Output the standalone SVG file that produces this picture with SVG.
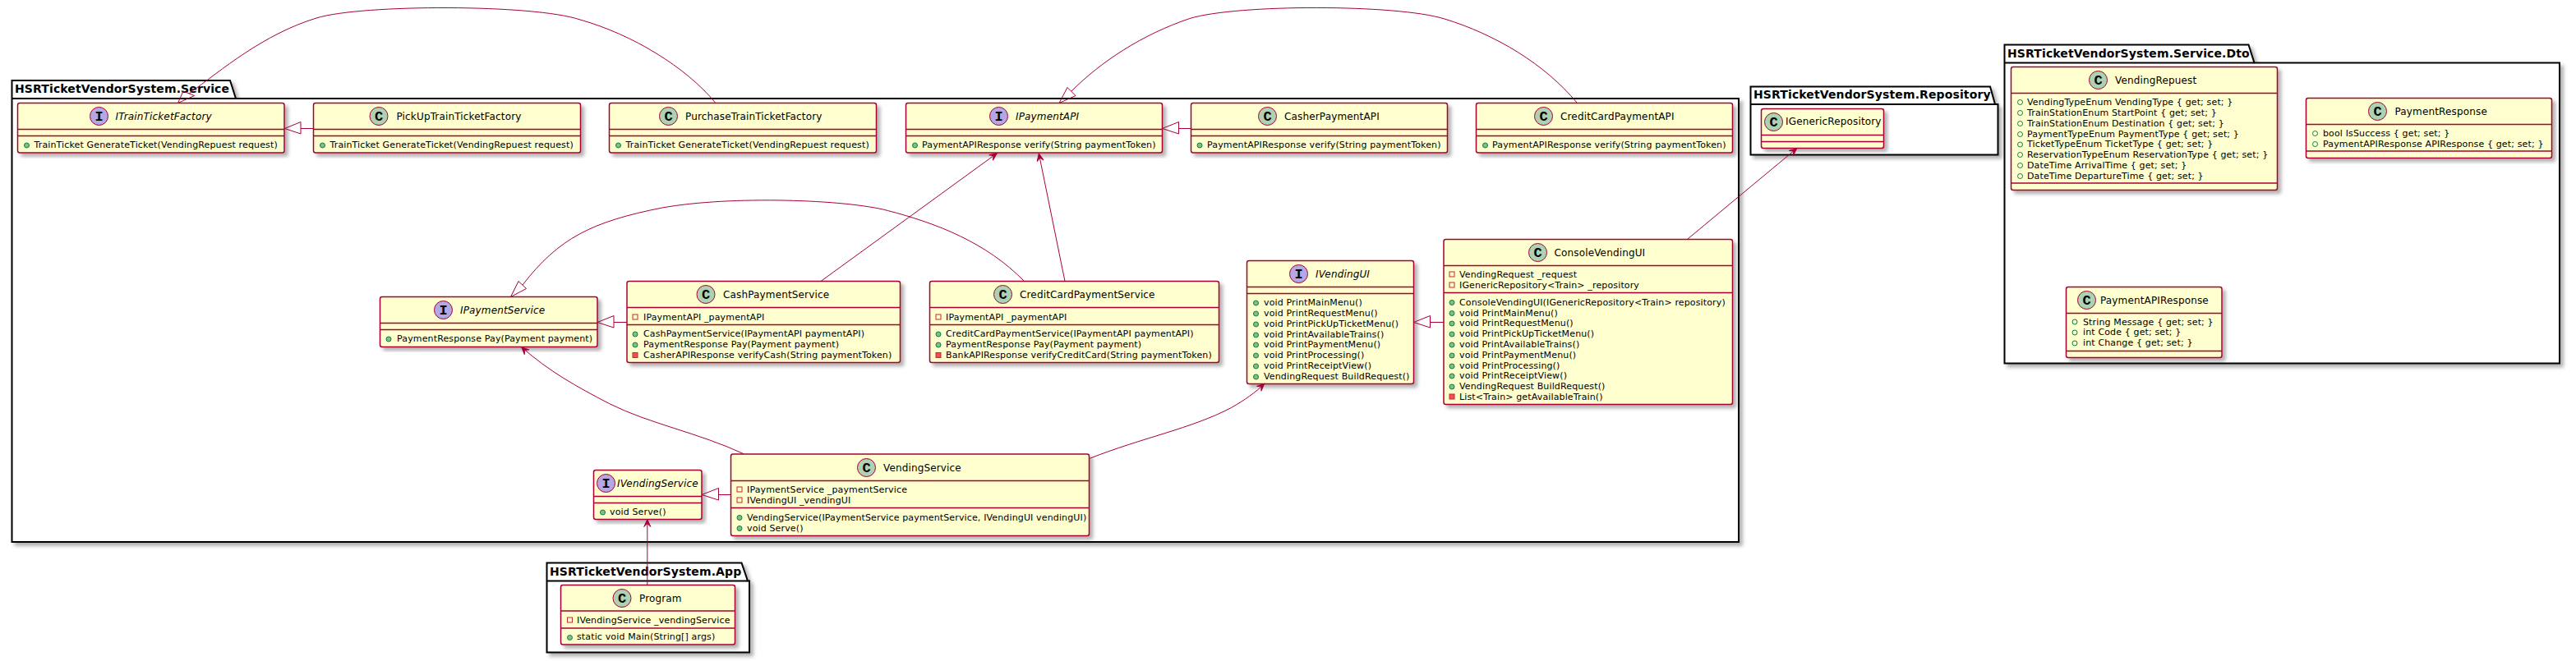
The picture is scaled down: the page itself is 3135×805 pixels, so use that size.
<svg xmlns="http://www.w3.org/2000/svg" width="3135" height="805" viewBox="0 0 3135 805">
<style>
text{font-family:"DejaVu Sans",sans-serif;fill:#000}
.box{fill:#FEFECE;stroke:#A80036;stroke-width:1.5;filter:url(#sh)}
.sep{stroke:#A80036;stroke-width:1.5}
.pkg{fill:#fff;stroke:#000;stroke-width:2;filter:url(#sh)}
.pl{fill:none;stroke:#000;stroke-width:2}
.pt{font-size:14px;font-weight:bold;letter-spacing:.12px}
.n{font-size:12px;letter-spacing:.15px}
.i{font-size:12px;font-style:italic;letter-spacing:.15px}
.m{font-size:11px;letter-spacing:.14px}
.cc{fill:#ADD1B2;stroke:#A80036;stroke-width:1}
.ci{fill:#B4A7E5;stroke:#A80036;stroke-width:1}
.g{font-family:"Liberation Mono",monospace;font-size:17px;font-weight:bold;text-anchor:middle}
.pub{fill:#84BE84;stroke:#038048;stroke-width:1}
.puo{fill:none;stroke:#038048;stroke-width:1}
.pri{fill:none;stroke:#C82930;stroke-width:1}
.prm{fill:#F24D5C;stroke:#C82930;stroke-width:1}
.e{fill:none;stroke:#A80036;stroke-width:1}
.ext{fill:none;stroke:#A80036;stroke-width:1}
.arr{fill:#A80036;stroke:#A80036;stroke-width:1}
</style>
<defs>
<filter id="sh" x="-5%" y="-5%" width="110%" height="115%"><feGaussianBlur in="SourceAlpha" stdDeviation="2"/><feOffset dx="4" dy="4" result="b"/><feFlood flood-color="#000" flood-opacity=".3"/><feComposite in2="b" operator="in"/><feMerge><feMergeNode/><feMergeNode in="SourceGraphic"/></feMerge></filter>
<g id="arrow"><path class="arr" d="M0,0 L4,9 L0,5 L-4,9 Z"/></g>
</defs>

<g id="pkg-service">
<path class="pkg" d="M14.5,98 H280 L287,120 H2116 V660 H14.5 Z"/>
<path class="pl" d="M14.5,120 H287"/>
<text class="pt" x="18" y="113">HSRTicketVendorSystem.Service</text>
</g>
<g id="pkg-repository">
<path class="pkg" d="M2130.5,105.5 H2422 L2428,127 H2431.5 V188.5 H2130.5 Z"/>
<path class="pl" d="M2130.5,127 H2428"/>
<text class="pt" x="2134" y="120">HSRTicketVendorSystem.Repository</text>
</g>
<g id="pkg-dto">
<path class="pkg" d="M2439.5,54.5 H2736.5 L2743.5,76.5 H3115 V442.5 H2439.5 Z"/>
<path class="pl" d="M2439.5,76.5 H2743.5"/>
<text class="pt" x="2443" y="69.5">HSRTicketVendorSystem.Service.Dto</text>
</g>
<g id="pkg-app">
<path class="pkg" d="M665.5,685.5 H902.5 L910,707.5 H912 V794.5 H665.5 Z"/>
<path class="pl" d="M665.5,707.5 H910"/>
<text class="pt" x="669" y="700.5">HSRTicketVendorSystem.App</text>
</g>

<g id="ITrainTicketFactory">
<rect class="box" x="21.5" y="125.5" width="324.5" height="60.5" rx="2.5"/>
<path class="sep" d="M21.5,157.5 H346 M21.5,165.5 H346"/>
<circle class="ci" cx="120.5" cy="141.5" r="11"/><text class="g" x="120.5" y="147">I</text>
<text class="i" x="140.5" y="146">ITrainTicketFactory</text>
<circle class="pub" cx="32.5" cy="177" r="3"/>
<text class="m" x="41.5" y="179.5">TrainTicket GenerateTicket(VendingRepuest request)</text>
</g>
<g id="PickUpTrainTicketFactory">
<rect class="box" x="381.5" y="125.5" width="325" height="60.5" rx="2.5"/>
<path class="sep" d="M381.5,157.5 H706.5 M381.5,165.5 H706.5"/>
<circle class="cc" cx="461" cy="141.5" r="11"/><text class="g" x="461" y="147">C</text>
<text class="n" x="482.5" y="146">PickUpTrainTicketFactory</text>
<circle class="pub" cx="392.5" cy="177" r="3"/>
<text class="m" x="401.5" y="179.5">TrainTicket GenerateTicket(VendingRepuest request)</text>
</g>
<g id="PurchaseTrainTicketFactory">
<rect class="box" x="741.5" y="125.5" width="325" height="60.5" rx="2.5"/>
<path class="sep" d="M741.5,157.5 H1066.5 M741.5,165.5 H1066.5"/>
<circle class="cc" cx="813.5" cy="141.5" r="11"/><text class="g" x="813.5" y="147">C</text>
<text class="n" x="834" y="146">PurchaseTrainTicketFactory</text>
<circle class="pub" cx="752.5" cy="177" r="3"/>
<text class="m" x="761.5" y="179.5">TrainTicket GenerateTicket(VendingRepuest request)</text>
</g>
<g id="IPaymentAPI">
<rect class="box" x="1102.5" y="125.5" width="312" height="60.5" rx="2.5"/>
<path class="sep" d="M1102.5,157.5 H1414.5 M1102.5,165.5 H1414.5"/>
<circle class="ci" cx="1215.5" cy="141.5" r="11"/><text class="g" x="1215.5" y="147">I</text>
<text class="i" x="1236" y="146">IPaymentAPI</text>
<circle class="pub" cx="1113.5" cy="177" r="3"/>
<text class="m" x="1122" y="179.5">PaymentAPIResponse verify(String paymentToken)</text>
</g>
<g id="CasherPaymentAPI">
<rect class="box" x="1449.5" y="125.5" width="312" height="60.5" rx="2.5"/>
<path class="sep" d="M1449.5,157.5 H1761.5 M1449.5,165.5 H1761.5"/>
<circle class="cc" cx="1542.5" cy="141.5" r="11"/><text class="g" x="1542.5" y="147">C</text>
<text class="n" x="1563" y="146">CasherPaymentAPI</text>
<circle class="pub" cx="1460" cy="177" r="3"/>
<text class="m" x="1469" y="179.5">PaymentAPIResponse verify(String paymentToken)</text>
</g>
<g id="CreditCardPaymentAPI">
<rect class="box" x="1796.5" y="125.5" width="312" height="60.5" rx="2.5"/>
<path class="sep" d="M1796.5,157.5 H2108.5 M1796.5,165.5 H2108.5"/>
<circle class="cc" cx="1878.5" cy="141.5" r="11"/><text class="g" x="1878.5" y="147">C</text>
<text class="n" x="1899" y="146">CreditCardPaymentAPI</text>
<circle class="pub" cx="1807.5" cy="177" r="3"/>
<text class="m" x="1816" y="179.5">PaymentAPIResponse verify(String paymentToken)</text>
</g>
<g id="IGenericRepository">
<rect class="box" x="2143.5" y="132.5" width="149" height="48" rx="2.5"/>
<path class="sep" d="M2143.5,164.5 H2292.5 M2143.5,172.5 H2292.5"/>
<circle class="cc" cx="2158.5" cy="148.5" r="11"/><text class="g" x="2158.5" y="154">C</text>
<text class="n" x="2173" y="152">IGenericRepository</text>
</g>
<g id="IPaymentService">
<rect class="box" x="462.5" y="361.5" width="264.5" height="61" rx="2.5"/>
<path class="sep" d="M462.5,393.5 H727 M462.5,401.5 H727"/>
<circle class="ci" cx="539.5" cy="377.5" r="11"/><text class="g" x="539.5" y="383">I</text>
<text class="i" x="560" y="382">IPaymentService</text>
<circle class="pub" cx="473" cy="413" r="3"/>
<text class="m" x="483" y="415.5">PaymentResponse Pay(Payment payment)</text>
</g>
<g id="CashPaymentService">
<rect class="box" x="763" y="342.5" width="332.5" height="99" rx="2.5"/>
<path class="sep" d="M763,374.5 H1095.5 M763,395.5 H1095.5"/>
<circle class="cc" cx="859" cy="358.5" r="11"/><text class="g" x="859" y="364">C</text>
<text class="n" x="880" y="363">CashPaymentService</text>
<rect class="pri" x="770" y="383" width="6" height="6"/>
<text class="m" x="783" y="389.5">IPaymentAPI _paymentAPI</text>
<circle class="pub" cx="773" cy="407" r="3"/>
<text class="m" x="783" y="410">CashPaymentService(IPaymentAPI paymentAPI)</text>
<circle class="pub" cx="773" cy="420" r="3"/>
<text class="m" x="783" y="422.5">PaymentResponse Pay(Payment payment)</text>
<rect class="prm" x="770" y="429.5" width="6" height="6"/>
<text class="m" x="783" y="435.5">CasherAPIResponse verifyCash(String paymentToken)</text>
</g>
<g id="CreditCardPaymentService">
<rect class="box" x="1131.5" y="342.5" width="352" height="99" rx="2.5"/>
<path class="sep" d="M1131.5,374.5 H1483.5 M1131.5,395.5 H1483.5"/>
<circle class="cc" cx="1220.5" cy="358.5" r="11"/><text class="g" x="1220.5" y="364">C</text>
<text class="n" x="1241" y="363">CreditCardPaymentService</text>
<rect class="pri" x="1139" y="383" width="6" height="6"/>
<text class="m" x="1151" y="389.5">IPaymentAPI _paymentAPI</text>
<circle class="pub" cx="1142" cy="407" r="3"/>
<text class="m" x="1151" y="410">CreditCardPaymentService(IPaymentAPI paymentAPI)</text>
<circle class="pub" cx="1142" cy="420" r="3"/>
<text class="m" x="1151" y="422.5">PaymentResponse Pay(Payment payment)</text>
<rect class="prm" x="1139" y="429.5" width="6" height="6"/>
<text class="m" x="1151" y="435.5">BankAPIResponse verifyCreditCard(String paymentToken)</text>
</g>
<g id="IVendingUI">
<rect class="box" x="1517.5" y="317.5" width="203" height="150" rx="2.5"/>
<path class="sep" d="M1517.5,349.5 H1720.5 M1517.5,357.5 H1720.5"/>
<circle class="ci" cx="1580.5" cy="333.5" r="11"/><text class="g" x="1580.5" y="339">I</text>
<text class="i" x="1601" y="338">IVendingUI</text>
<circle class="pub" cx="1528.5" cy="369" r="3"/><text class="m" x="1538" y="371.5">void PrintMainMenu()</text>
<circle class="pub" cx="1528.5" cy="382" r="3"/><text class="m" x="1538" y="384.5">void PrintRequestMenu()</text>
<circle class="pub" cx="1528.5" cy="395" r="3"/><text class="m" x="1538" y="397.5">void PrintPickUpTicketMenu()</text>
<circle class="pub" cx="1528.5" cy="408" r="3"/><text class="m" x="1538" y="410.5">void PrintAvailableTrains()</text>
<circle class="pub" cx="1528.5" cy="420" r="3"/><text class="m" x="1538" y="422.5">void PrintPaymentMenu()</text>
<circle class="pub" cx="1528.5" cy="433" r="3"/><text class="m" x="1538" y="435.5">void PrintProcessing()</text>
<circle class="pub" cx="1528.5" cy="446" r="3"/><text class="m" x="1538" y="448.5">void PrintReceiptView()</text>
<circle class="pub" cx="1528.5" cy="459" r="3"/><text class="m" x="1538" y="461.5">VendingRequest BuildRequest()</text>
</g>
<g id="ConsoleVendingUI">
<rect class="box" x="1757" y="291.5" width="351.5" height="201" rx="2.5"/>
<path class="sep" d="M1757,323.5 H2108.5 M1757,356.5 H2108.5"/>
<circle class="cc" cx="1871.5" cy="307.5" r="11"/><text class="g" x="1871.5" y="313">C</text>
<text class="n" x="1891.5" y="311.5">ConsoleVendingUI</text>
<rect class="pri" x="1764" y="331" width="6" height="6"/><text class="m" x="1776" y="337.5">VendingRequest _request</text>
<rect class="pri" x="1764" y="344" width="6" height="6"/><text class="m" x="1776" y="350.5">IGenericRepository&lt;Train&gt; _repository</text>
<circle class="pub" cx="1767" cy="368.5" r="3"/><text class="m" x="1776" y="371.5">ConsoleVendingUI(IGenericRepository&lt;Train&gt; repository)</text>
<circle class="pub" cx="1767" cy="381.5" r="3"/><text class="m" x="1776" y="384.5">void PrintMainMenu()</text>
<circle class="pub" cx="1767" cy="394" r="3"/><text class="m" x="1776" y="397">void PrintRequestMenu()</text>
<circle class="pub" cx="1767" cy="407" r="3"/><text class="m" x="1776" y="410">void PrintPickUpTicketMenu()</text>
<circle class="pub" cx="1767" cy="420" r="3"/><text class="m" x="1776" y="423">void PrintAvailableTrains()</text>
<circle class="pub" cx="1767" cy="433" r="3"/><text class="m" x="1776" y="436">void PrintPaymentMenu()</text>
<circle class="pub" cx="1767" cy="446" r="3"/><text class="m" x="1776" y="449">void PrintProcessing()</text>
<circle class="pub" cx="1767" cy="458" r="3"/><text class="m" x="1776" y="461">void PrintReceiptView()</text>
<circle class="pub" cx="1767" cy="471" r="3"/><text class="m" x="1776" y="474">VendingRequest BuildRequest()</text>
<rect class="prm" x="1764" y="480" width="6" height="6"/><text class="m" x="1776" y="486.5">List&lt;Train&gt; getAvailableTrain()</text>
</g>
<g id="VendingService">
<rect class="box" x="889.5" y="553" width="436" height="99.5" rx="2.5"/>
<path class="sep" d="M889.5,585.5 H1325.5 M889.5,618.5 H1325.5"/>
<circle class="cc" cx="1054.5" cy="569.5" r="11"/><text class="g" x="1054.5" y="575">C</text>
<text class="n" x="1075" y="573.5">VendingService</text>
<rect class="pri" x="897" y="593" width="6" height="6"/><text class="m" x="909" y="599.5">IPaymentService _paymentService</text>
<rect class="pri" x="897" y="606" width="6" height="6"/><text class="m" x="909" y="612.5">IVendingUI _vendingUI</text>
<circle class="pub" cx="900" cy="630.5" r="3"/><text class="m" x="909" y="633.5">VendingService(IPaymentService paymentService, IVendingUI vendingUI)</text>
<circle class="pub" cx="900" cy="643.5" r="3"/><text class="m" x="909" y="646.5">void Serve()</text>
</g>
<g id="IVendingService">
<rect class="box" x="722.5" y="572.5" width="131.5" height="60" rx="2.5"/>
<path class="sep" d="M722.5,604.5 H854 M722.5,612.5 H854"/>
<circle class="ci" cx="737.5" cy="588.5" r="11"/><text class="g" x="737.5" y="594">I</text>
<text class="i" x="751" y="592.5">IVendingService</text>
<circle class="pub" cx="733.5" cy="624" r="3"/>
<text class="m" x="742" y="626.5">void Serve()</text>
</g>
<g id="Program">
<rect class="box" x="682.5" y="712.5" width="212" height="72.5" rx="2.5"/>
<path class="sep" d="M682.5,744 H894.5 M682.5,765 H894.5"/>
<circle class="cc" cx="757" cy="728.5" r="11"/><text class="g" x="757" y="734">C</text>
<text class="n" x="778" y="732.5">Program</text>
<rect class="pri" x="690.5" y="752" width="6" height="6"/><text class="m" x="702" y="758.5">IVendingService _vendingService</text>
<circle class="pub" cx="693.5" cy="776.5" r="3"/><text class="m" x="702" y="779">static void Main(String[] args)</text>
</g>
<g id="VendingRepuest">
<rect class="box" x="2447.5" y="81.5" width="324" height="150" rx="2.5"/>
<path class="sep" d="M2447.5,113.5 H2771.5 M2447.5,223 H2771.5"/>
<circle class="cc" cx="2553.5" cy="97.5" r="11"/><text class="g" x="2553.5" y="103">C</text>
<text class="n" x="2574" y="101.5">VendingRepuest</text>
<circle class="puo" cx="2458.5" cy="124.5" r="3"/><text class="m" x="2467" y="127.5">VendingTypeEnum VendingType { get; set; }</text>
<circle class="puo" cx="2458.5" cy="137.5" r="3"/><text class="m" x="2467" y="140.5">TrainStationEnum StartPoint { get; set; }</text>
<circle class="puo" cx="2458.5" cy="150.5" r="3"/><text class="m" x="2467" y="153.5">TrainStationEnum Destination { get; set; }</text>
<circle class="puo" cx="2458.5" cy="163.5" r="3"/><text class="m" x="2467" y="166.5">PaymentTypeEnum PaymentType { get; set; }</text>
<circle class="puo" cx="2458.5" cy="176" r="3"/><text class="m" x="2467" y="178.5">TicketTypeEnum TicketType { get; set; }</text>
<circle class="puo" cx="2458.5" cy="188.5" r="3"/><text class="m" x="2467" y="191.5">ReservationTypeEnum ReservationType { get; set; }</text>
<circle class="puo" cx="2458.5" cy="201.5" r="3"/><text class="m" x="2467" y="204.5">DateTime ArrivalTime { get; set; }</text>
<circle class="puo" cx="2458.5" cy="214.5" r="3"/><text class="m" x="2467" y="217.5">DateTime DepartureTime { get; set; }</text>
</g>
<g id="PaymentResponse">
<rect class="box" x="2806.5" y="119.5" width="299" height="73" rx="2.5"/>
<path class="sep" d="M2806.5,151.5 H3105.5 M2806.5,184 H3105.5"/>
<circle class="cc" cx="2893.5" cy="135.5" r="11"/><text class="g" x="2893.5" y="141">C</text>
<text class="n" x="2914.5" y="139.5">PaymentResponse</text>
<circle class="puo" cx="2817.5" cy="162.5" r="3"/><text class="m" x="2827" y="165.5">bool IsSuccess { get; set; }</text>
<circle class="puo" cx="2817.5" cy="175.5" r="3"/><text class="m" x="2827" y="178.5">PaymentAPIResponse APIResponse { get; set; }</text>
</g>
<g id="PaymentAPIResponse">
<rect class="box" x="2514.5" y="349.5" width="189.5" height="86" rx="2.5"/>
<path class="sep" d="M2514.5,381.5 H2704 M2514.5,427.5 H2704"/>
<circle class="cc" cx="2539.5" cy="365.5" r="11"/><text class="g" x="2539.5" y="371">C</text>
<text class="n" x="2556" y="369.5">PaymentAPIResponse</text>
<circle class="puo" cx="2525" cy="392" r="3"/><text class="m" x="2535" y="395.5">String Message { get; set; }</text>
<circle class="puo" cx="2525" cy="405" r="3"/><text class="m" x="2535" y="408">int Code { get; set; }</text>
<circle class="puo" cx="2525" cy="418" r="3"/><text class="m" x="2535" y="421">int Change { get; set; }</text>
</g>

<g id="connectors">
<path class="e" d="M870.5,125 C835,82 770,42 706,24 C650,5 440,5 385,22 C320,42 270,85 230,114"/>
<path class="ext" d="M216.5,125.5 L223,111 L236.5,116.5 Z"/>
<path class="e" d="M1919,125 C1880,78 1820,42 1758,23 C1700,5 1505,5 1448,22.5 C1390,42 1340,75 1304,111"/>
<path class="ext" d="M1289,125.5 L1299,106.5 L1309,116.5 Z"/>
<path class="e" d="M1246.5,342.5 C1200,295 1140,272 1080.5,256.5 C1030,243 890,238 806,253 C720,270 680,290 636,347"/>
<path class="ext" d="M621.5,361.5 L631,342.5 L640.5,351.5 Z"/>
<path class="e" d="M999,342.5 L1213.3,186.7"/>
<use href="#arrow" transform="translate(1213.3,186.7) rotate(54)"/>
<path class="e" d="M1296,342.5 L1264.3,187"/>
<use href="#arrow" transform="translate(1264.3,187) rotate(-11.7)"/>
<path class="e" d="M2054,291 L2186.7,180.7"/>
<use href="#arrow" transform="translate(2186.7,180.7) rotate(50)"/>
<path class="e" d="M905,552.7 C850,527 790,516 741.8,491.7 C700,470 668,452 634.7,422.7"/>
<use href="#arrow" transform="translate(634.7,422.7) rotate(-46)"/>
<path class="e" d="M1326.3,558.3 C1390,533 1450,522 1498.5,496.5 C1515,487 1528,478 1538.7,467.3"/>
<use href="#arrow" transform="translate(1538.7,467.3) rotate(47)"/>
<path class="e" d="M787.8,712.5 V632.5"/>
<use href="#arrow" transform="translate(787.8,632.5)"/>
<path class="e" d="M381.5,156.5 H366"/><path class="ext" d="M346.5,156.5 L366,148.5 V163 Z"/>
<path class="e" d="M1449.5,156.5 H1434.5"/><path class="ext" d="M1414.5,156.5 L1434.5,148.5 V163 Z"/>
<path class="e" d="M1757,392.5 H1740.5"/><path class="ext" d="M1720.5,392.5 L1740.5,384.5 V399 Z"/>
<path class="e" d="M763,392.5 H747"/><path class="ext" d="M727,392.5 L747,384.5 V399 Z"/>
<path class="e" d="M889.5,602.5 H874.5"/><path class="ext" d="M854,602.5 L874.5,594.5 V609 Z"/>
</g>
</svg>
